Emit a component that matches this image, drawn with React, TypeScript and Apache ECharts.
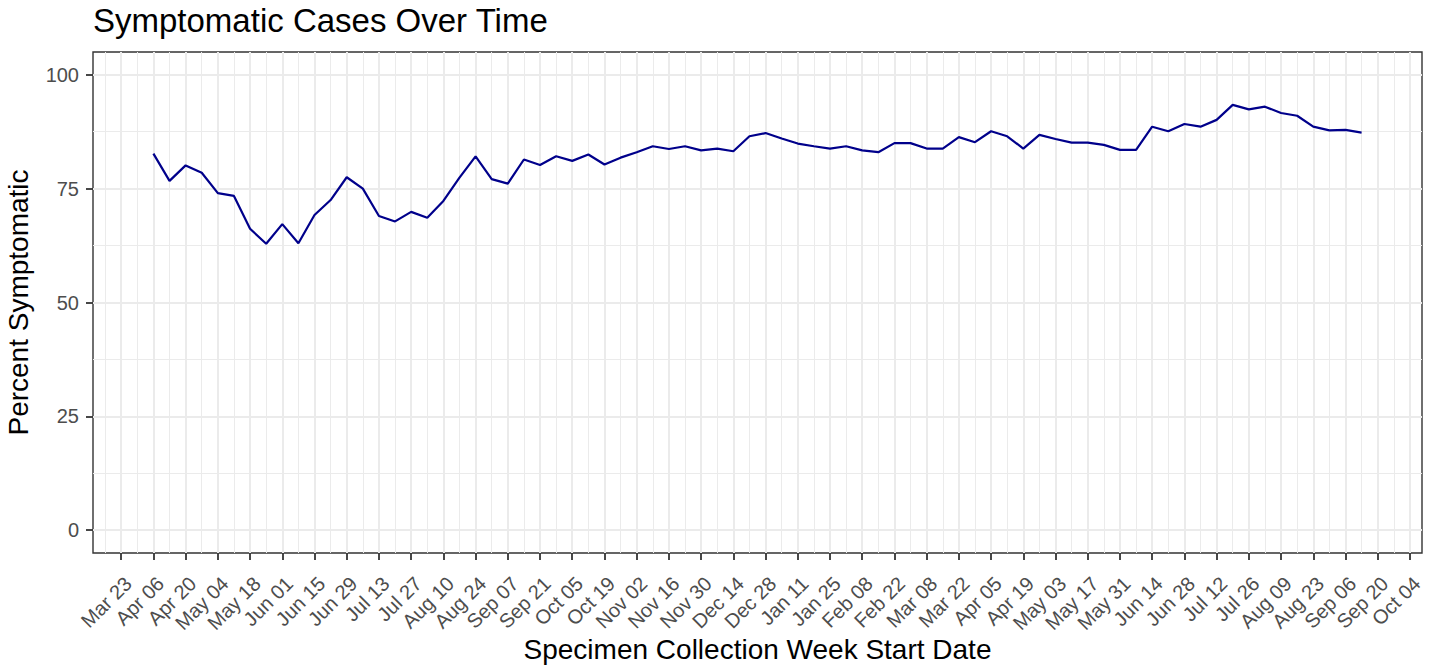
import React, { useEffect, useRef } from "react";
import * as echarts from "echarts";

// Week index 0 = week starting Mar 23, 2020; one unit = one week.
const firstDataWeek = 2; // Apr 06, 2020
const percentSymptomatic: number[] = [
  82.7, 76.7, 80.1, 78.5, 74.0, 73.4, 66.2, 62.9, 67.2, 63.0,
  69.2, 72.5, 77.5, 75.0, 69.0, 67.8, 69.9, 68.6, 72.3, 77.4,
  82.1, 77.1, 76.1, 81.4, 80.2, 82.1, 81.1, 82.5, 80.3, 81.8,
  83.0, 84.3, 83.7, 84.3, 83.4, 83.8, 83.2, 86.5, 87.2, 86.0,
  84.9, 84.3, 83.8, 84.3, 83.4, 83.0, 85.0, 85.0, 83.8, 83.8,
  86.3, 85.2, 87.6, 86.5, 83.8, 86.8, 85.9, 85.1, 85.1, 84.6,
  83.5, 83.5, 88.6, 87.6, 89.2, 88.6, 90.1, 93.4, 92.4, 93.0,
  91.6, 91.0, 88.6, 87.8, 87.9, 87.3,
];

const xTickLabels: string[] = [
  "Mar 23", "Apr 06", "Apr 20", "May 04", "May 18", "Jun 01", "Jun 15", "Jun 29",
  "Jul 13", "Jul 27", "Aug 10", "Aug 24", "Sep 07", "Sep 21", "Oct 05", "Oct 19",
  "Nov 02", "Nov 16", "Nov 30", "Dec 14", "Dec 28", "Jan 11", "Jan 25", "Feb 08",
  "Feb 22", "Mar 08", "Mar 22", "Apr 05", "Apr 19", "May 03", "May 17", "May 31",
  "Jun 14", "Jun 28", "Jul 12", "Jul 26", "Aug 09", "Aug 23", "Sep 06", "Sep 20",
  "Oct 04",
];
const yTicks: number[] = [0, 25, 50, 75, 100];
const yMinorTicks: number[] = [12.5, 37.5, 62.5, 87.5];

const TITLE = "Symptomatic Cases Over Time";
const X_TITLE = "Specimen Collection Week Start Date";
const Y_TITLE = "Percent Symptomatic";

const FONT = "'Liberation Sans', Arial, Helvetica, sans-serif";

export default function App() {
  const ref = useRef<HTMLDivElement>(null);

  useEffect(() => {
    if (!ref.current) return;
    const chart = echarts.init(ref.current, undefined, { renderer: "svg" });

    const xMajor = xTickLabels.map((_, i) => i * 2);
    const xMinor = xTickLabels.map((_, i) => i * 2 - 1).filter((v) => v > -1.75);
    const lineData = percentSymptomatic.map((v, i) => [firstDataWeek + i, v]);

    const xMin = -1.75;
    const xMax = 80.75;
    const yMin = -5;
    const yMax = 105;

    const gridLeft = 93;
    const gridRight = 18;
    const gridTop = 52;
    const gridBottom = 115;
    const panelCx = gridLeft + (1440 - gridLeft - gridRight) / 2;
    const panelCy = gridTop + (668 - gridTop - gridBottom) / 2;

    chart.setOption({
      animation: false,
      backgroundColor: "#ffffff",
      grid: {
        left: gridLeft,
        right: gridRight,
        top: gridTop,
        bottom: gridBottom,
        show: true,
        backgroundColor: "transparent",
        borderColor: "#333333",
        borderWidth: 1.4,
      },
      xAxis: {
        type: "value",
        min: xMin,
        max: xMax,
        position: "bottom",
        axisLine: { show: false, onZero: false },
        axisTick: {
          show: true,
          inside: false,
          customValues: xMajor,
          length: 7,
          lineStyle: { color: "#333333", width: 1.8 },
        },
        axisLabel: {
          show: true,
          customValues: xMajor,
          formatter: (v: number) => xTickLabels[Math.round(v / 2)] ?? "",
          rotate: 45,
          align: "right",
          verticalAlign: "top",
          margin: 20,
          color: "#4D4D4D",
          fontSize: 20,
          fontFamily: FONT,
        },
        splitLine: { show: true, lineStyle: { color: "#EBEBEB", width: 2 } },
      },
      yAxis: {
        type: "value",
        min: yMin,
        max: yMax,
        position: "left",
        axisLine: { show: false, onZero: false },
        axisTick: {
          show: true,
          inside: false,
          customValues: yTicks,
          length: 7,
          lineStyle: { color: "#333333", width: 1.8 },
        },
        axisLabel: {
          show: true,
          customValues: yTicks,
          margin: 14,
          color: "#4D4D4D",
          fontSize: 20,
          fontFamily: FONT,
        },
        splitLine: { show: true, lineStyle: { color: "#EBEBEB", width: 2 } },
      },
      series: [
        {
          type: "line",
          name: "minor grid",
          data: lineData,
          showSymbol: false,
          symbol: "none",
          silent: true,
          lineStyle: { opacity: 0 },
          z: 1,
          markLine: {
            silent: true,
            symbol: ["none", "none"],
            label: { show: false },
            emphasis: { disabled: true },
            lineStyle: { color: "#EBEBEB", width: 1, type: "solid" },
            data: [
              ...xMinor.map((v) => ({ xAxis: v })),
              ...yMinorTicks.map((v) => ({ yAxis: v })),
            ],
          },
        },
        {
          type: "line",
          name: "Percent Symptomatic",
          data: lineData,
          showSymbol: false,
          symbol: "none",
          lineStyle: { color: "#00008B", width: 2.2 },
          z: 5,
        },
      ],
      graphic: [
        {
          type: "text",
          x: 93,
          y: 20,
          style: {
            text: TITLE,
            fill: "#000000",
            fontSize: 33,
            fontFamily: FONT,
            align: "left",
            verticalAlign: "middle",
          },
        },
        {
          type: "text",
          x: panelCx,
          y: 649,
          style: {
            text: X_TITLE,
            fill: "#000000",
            fontSize: 28,
            fontFamily: FONT,
            align: "center",
            verticalAlign: "middle",
          },
        },
        {
          type: "text",
          x: 18.5,
          y: panelCy,
          rotation: Math.PI / 2,
          style: {
            text: Y_TITLE,
            fill: "#000000",
            fontSize: 28,
            fontFamily: FONT,
            align: "center",
            verticalAlign: "middle",
          },
        },
      ],
    });

    return () => {
      chart.dispose();
    };
  }, []);

  return (
    <div
      ref={ref}
      style={{ position: "absolute", left: 0, top: 0, width: 1440, height: 668, background: "#fff" }}
    />
  );
}
